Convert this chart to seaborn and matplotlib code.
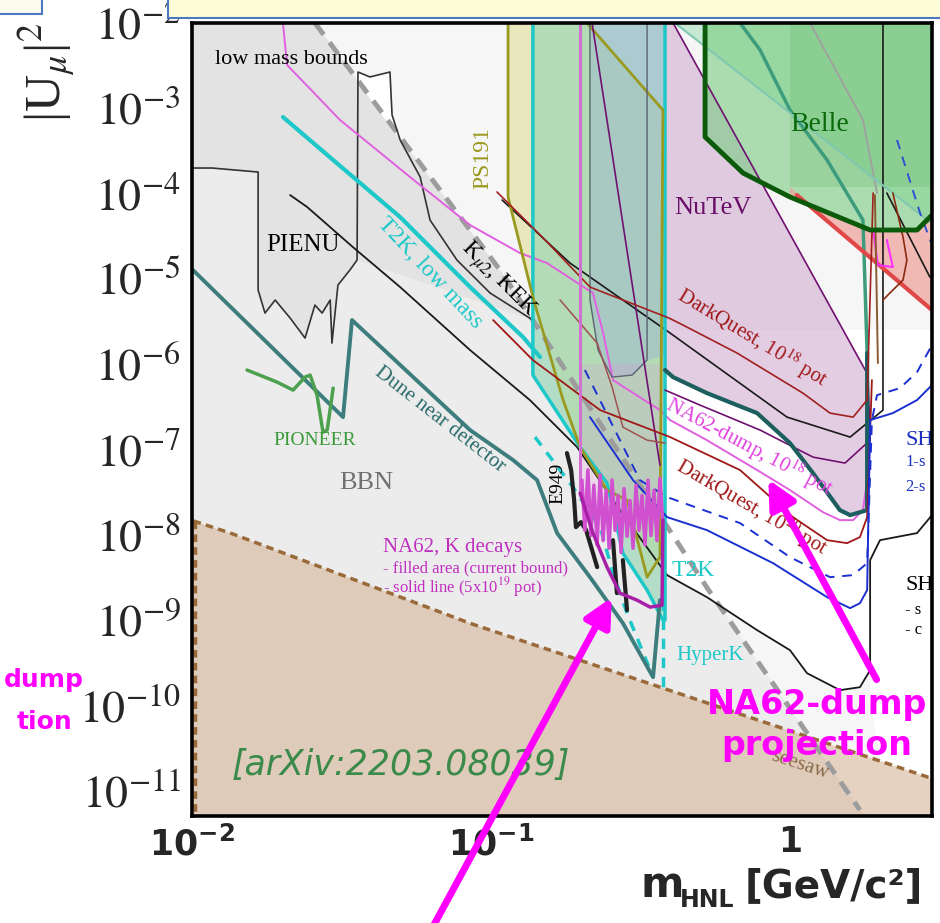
import numpy as np
import matplotlib
matplotlib.use('Agg')
import matplotlib.pyplot as plt
import seaborn as sns
from matplotlib.patches import Rectangle, FancyArrowPatch
from matplotlib.ticker import LogLocator, NullFormatter, FuncFormatter

# all values are log10: m_HNL in GeV/c^2 (lm) and |U_mu|^2 (lu)

# BBN / low mass bound, grey dashed
bbn_lm = [-1.589, -0.963, -0.278, 0.234]
bbn_lu = [-2.0, -4.93, -8.62, -11.23]

# seesaw line
seesaw_lm = [-1.995, -1.873, -1.070, 0.475]
seesaw_lu = [-7.84, -7.98, -9.04, -10.86]

# PIENU outline (left edge -> jagged bottom -> right edge) and K_mu2 KEK curve
pienu_lm = [-2.0, -1.933, -1.779, -1.779, -1.756, -1.722, -1.672, -1.622, -1.589, -1.565, -1.538, -1.532,
            -1.512, -1.472, -1.448, -1.445]
pienu_lu = [-3.701, -3.701, -3.748, -5.132, -5.402, -5.249, -5.460, -5.695, -5.308, -5.402, -5.249, -5.754,
            -5.073, -4.897, -4.780, -2.575]
kmu2_lm = [-1.445, -1.405, -1.338, -1.331, -1.304, -1.237, -1.204, -1.114, -1.003, -0.860]
kmu2_lu = [-2.575, -2.633, -2.575, -3.079, -3.372, -3.806, -4.311, -4.780, -5.167, -5.484]

notch_lm = [-1.445, -1.405, -1.338, -1.331, -1.304, -1.445]
notch_lu = [-2.575, -2.633, -2.575, -3.079, -3.372, -2.692]

# thin black curve (low mass -> outer contour on the right)
blackc_lm = [-1.672, -1.615, -1.462, -1.304, -1.070, -0.870, -0.712, -0.569, -0.411, -0.278, -0.110, 0.0,
             0.057, 0.167, 0.234, 0.268, 0.268, 0.301, 0.425, 0.475]
blackc_lu = [-4.018, -4.158, -4.628, -5.097, -5.836, -6.422, -6.974, -7.713, -8.475, -8.733, -9.120, -9.355,
             -9.625, -9.824, -9.789, -9.589, -8.299, -8.065, -7.982, -7.771]

# upper thin black curve
blackb_lm = [-0.963, -0.736, -0.401, -0.010, 0.201, 0.311, 0.311]
blackb_lu = [-4.076, -4.815, -5.636, -6.622, -6.856, -6.540, -2.0]

# NA62-dump 10^18 pot
dump_lm = [-1.696, -1.682, -1.505, -1.271, -1.070, -0.903, -0.813, -0.659, -0.625, -0.592, -0.435, -0.401,
           -0.278, -0.110, 0.0, 0.110, 0.167, 0.211, 0.244, 0.258, 0.261]
dump_lu = [-2.0, -2.493, -3.138, -3.806, -4.370, -4.698, -4.815, -5.167, -5.636, -6.188, -6.540, -6.657,
           -6.892, -7.243, -7.478, -7.736, -7.830, -7.830, -7.713, -7.361, -5.601]

# T2K
t2klow_lm = [-1.696, -1.528, -1.304, -1.070, -0.893, -0.836]
t2klow_lu = [-3.103, -3.607, -4.276, -5.097, -5.683, -5.918]
t2k_lm = [-0.860, -0.860, -0.702, -0.612, -0.559, -0.478, -0.425, -0.418, -0.418]
t2k_lu = [-2.0, -6.129, -6.974, -7.396, -8.217, -8.651, -9.003, -9.003, -2.0]
hyperk_lm = [-0.853, -0.726, -0.635, -0.592, -0.545, -0.458]
hyperk_lu = [-6.856, -7.443, -7.912, -8.452, -8.921, -9.672]
hyperk2_lm = [-0.425, -0.425]
hyperk2_lu = [-8.768, -9.824]

# PS191
ps191_lm = [-0.943, -0.943, -0.860, -0.759, -0.702, -0.612, -0.545, -0.478, -0.435, -0.425, -0.679]
ps191_lu = [-2.0, -4.041, -5.214, -6.422, -6.974, -7.478, -7.595, -8.499, -8.264, -3.021, -2.0]

# grey-blue beam dump region
charm_lm = [-0.669, -0.669, -0.642, -0.595, -0.528, -0.478, -0.418, -0.418]
charm_lu = [-2.0, -5.249, -5.836, -6.153, -6.129, -5.953, -5.90, -2.0]
charm_edge_lm = [-0.669, -0.669, -0.642, -0.595, -0.528, -0.478, -0.478]
charm_edge_lu = [-2.0, -5.249, -5.836, -6.153, -6.129, -5.953, -2.0]

# NuTeV
nutev_lm = [-0.418, -0.391, 0.261, 0.261, 0.201, 0.167, 0.077, 0.0, -0.110, -0.278, -0.391, -0.418]
nutev_lu = [-2.0, -2.0, -6.129, -7.713, -7.771, -7.713, -7.279, -6.927, -6.575, -6.340, -6.153, -6.070]
nutev_diag_lm = [-0.662, -0.435]
nutev_diag_lu = [-2.0, -7.185]
nutev_right_lm = [-0.391, 0.261]
nutev_right_lu = [-2.0, -6.129]
nutev_bot_lm = [0.261, 0.268, 0.184, 0.077, -0.100, -0.301, -0.418]
nutev_bot_lu = [-6.129, -6.892, -7.161, -7.091, -6.774, -6.481, -6.305]

# teal thick contour
teal_up_lm = [-0.167, -0.100, 0.0, 0.124, 0.244, 0.258]
teal_up_lu = [-2.0, -2.317, -3.021, -3.607, -4.311, -5.871]
teal_lo_lm = [0.258, 0.258, 0.201, 0.167, 0.077, 0.0, -0.110, -0.278, -0.391, -0.418]
teal_lo_lu = [-5.871, -7.713, -7.771, -7.713, -7.279, -6.927, -6.575, -6.340, -6.153, -6.070]

# Belle and neighbours
belle_lm = [-0.284, -0.284, -0.157, 0.0, 0.268, 0.425, 0.475, 0.475]
belle_lu = [-2.0, -3.337, -3.760, -4.041, -4.428, -4.428, -4.252, -2.0]
lgreen_lm = [-0.385, 0.468, 0.475]
lgreen_lu = [-2.0, -4.334, -2.0]
dgreen_lm = [0.0, 0.0, 0.475, 0.475]
dgreen_lu = [-2.0, -3.924, -3.924, -2.0]
salmon_lm = [0.0, 0.475, 0.475, 0.425, 0.268, 0.0]
salmon_lu = [-3.924, -5.367, -4.252, -4.428, -4.428, -4.041]
redline_lm = [0.023, 0.475]
redline_lu = [-4.018, -5.367]
greyl_lm = [0.067, 0.244, 0.291]
greyl_lu = [-2.0, -3.138, -3.994]
blackr_lm = [0.324, 0.468]
blackr_lu = [-3.994, -4.980]
magsmall_lm = [0.278, 0.294, 0.344, 0.324]
magsmall_lu = [-4.428, -4.839, -4.862, -4.545]

# DarkQuest
dq18_lm = [-0.980, -0.819, -0.669, -0.405, -0.358, -0.177, 0.043, 0.134, 0.211, 0.258, 0.278]
dq18_lu = [-3.982, -4.545, -5.097, -5.460, -5.542, -5.871, -6.340, -6.575, -6.622, -6.422, -3.994]
dqin_lm = [-0.769, -0.645, -0.595, -0.559, -0.478, -0.418]
dqin_lu = [-5.249, -5.754, -6.270, -6.739, -6.892, -6.927]
dq20_lm = [-0.993, -0.860, -0.635, -0.401, -0.167, 0.010, 0.124, 0.191, 0.234, 0.258, 0.274]
dq20_lu = [-5.484, -5.953, -6.540, -6.856, -7.243, -7.795, -8.065, -8.100, -8.029, -7.795, -6.188]
dqx_lm = [0.344, 0.378, 0.391, 0.378, 0.334, 0.311]
dqx_lu = [-3.994, -4.510, -4.780, -5.015, -5.167, -5.249]
dqv_lm = [0.284, 0.294]
dqv_lu = [-4.018, -5.988]

# SHiP
ship_lm = [-0.669, -0.525, -0.411, -0.278, -0.057, 0.124, 0.201, 0.234, 0.258, 0.268, 0.344, 0.425, 0.475]
ship_lu = [-6.622, -7.361, -7.795, -7.947, -8.334, -8.733, -8.862, -8.804, -8.651, -6.657, -6.575, -6.422, -6.246]
shipd_lm = [-0.686, -0.502, -0.411, -0.167, 0.0, 0.134, 0.211, 0.258, 0.274, 0.291, 0.368, 0.425, 0.475]
shipd_lu = [-6.070, -7.361, -7.560, -7.865, -8.264, -8.499, -8.475, -8.334, -6.657, -6.364, -6.282, -6.094, -5.777]
shipd2_lm = [0.358, 0.435, 0.475]
shipd2_lu = [-3.372, -4.229, -4.604]

# white (unconstrained) pocket
pocket_lm = [-0.418, 0.475, 0.475, 0.301, 0.268, 0.268, 0.234, 0.167, 0.057, 0.0, -0.110, -0.278, -0.411]
pocket_lu = [-5.60, -5.60, -10.86, -10.645, -9.941, -9.589, -9.789, -9.824, -9.625, -9.355, -9.120, -8.733, -8.475]

# Dune near detector, PIONEER, E949
dune_lm = [-1.997, -1.495, -1.465, -1.070, -0.926, -0.846, -0.779, -0.669, -0.559, -0.458, -0.435]
dune_lu = [-4.897, -6.622, -5.484, -6.774, -7.126, -7.361, -7.982, -8.499, -9.038, -9.672, -8.768]
pioneer_lm = [-1.816, -1.716, -1.662, -1.622, -1.605, -1.582, -1.562, -1.548, -1.528]
pioneer_lu = [-6.070, -6.211, -6.305, -6.153, -6.129, -6.364, -6.798, -6.774, -6.282]
e949_lm = [-0.746, -0.732, -0.722, -0.716, -0.699, -0.682, -0.662, -0.645]
e949_lu = [-7.044, -7.243, -7.595, -7.912, -7.853, -7.947, -8.182, -8.381]
e949b_lm = [[-0.592, -0.579], [-0.559, -0.545]]
e949b_lu = [[-8.065, -8.686], [-8.299, -8.886]]

# NA62 K decays: current bound (jagged) and 5x10^19 pot projection
na62k_lm = [-0.696, -0.686, -0.676, -0.666, -0.656, -0.645, -0.635, -0.625, -0.615, -0.605, -0.595, -0.585,
            -0.575, -0.565, -0.555, -0.545, -0.535, -0.525, -0.515, -0.505, -0.495, -0.485, -0.475, -0.465,
            -0.455, -0.445, -0.435, -0.425]
na62k_lu = [-7.36, -7.95, -7.24, -8.01, -7.42, -8.12, -7.30, -8.07, -7.48, -8.16, -7.36, -7.95,
            -7.54, -8.21, -7.46, -8.02, -7.60, -8.16, -7.42, -7.95, -7.54, -8.12, -7.36, -8.01,
            -7.48, -8.07, -7.34, -7.89]
na62p_lm = [-0.702, -0.659, -0.612, -0.569, -0.512, -0.468, -0.428, -0.425]
na62p_lu = [-7.513, -7.982, -8.381, -8.686, -8.768, -8.850, -8.827, -7.830]

LM_MIN, LM_MAX = -2.0, 0.475
LU_MIN, LU_MAX = -11.3, -2.0

sns.set_style('white')
plt.rcParams['font.family'] = ['Liberation Serif', 'DejaVu Serif']
plt.rcParams['mathtext.fontset'] = 'stix'

fig = plt.figure(figsize=(9.4, 9.23), dpi=100)
ax = fig.add_axes([0.2043, 0.1159, 0.7872, 0.8592])
ax.set_xscale('log')
ax.set_yscale('log')
ax.set_xlim(10**LM_MIN, 10**LM_MAX)
ax.set_ylim(10**LU_MIN, 10**LU_MAX)
ax.set_facecolor('#f6f6f6')


def P(a):
    return 10**np.asarray(a, dtype=float)


def area(lm, lu, fc, alpha=1.0, z=1):
    ax.fill(P(lm), P(lu), facecolor=fc, alpha=alpha, edgecolor='none', linewidth=0, zorder=z)


def curve(lm, lu, color, lw=1.2, ls='-', z=3):
    sns.lineplot(x=P(lm), y=P(lu), sort=False, estimator=None, color=color, linewidth=lw,
                 linestyle=ls, zorder=z, ax=ax, legend=False)


# background zones
area([LM_MIN] + bbn_lm + [0.26, LM_MIN], [LU_MAX] + bbn_lu + [LU_MIN, LU_MIN], '#ececec', z=0.5)
low_lm = [LM_MIN, bbn_lm[0]] + kmu2_lm[4:] + pienu_lm[-2::-1]
low_lu = [LU_MAX, LU_MAX] + kmu2_lu[4:] + pienu_lu[-2::-1]
area(low_lm, low_lu, '#000000', alpha=0.035, z=0.6)
area(kmu2_lm[4:] + [bbn_lm[1]], kmu2_lu[4:] + [bbn_lu[1]], '#000000', alpha=0.04, z=0.6)
area(notch_lm, notch_lu, 'white', z=0.7)
area(pocket_lm, pocket_lu, 'white', z=0.7)
area([LM_MIN] + seesaw_lm + [LM_MAX, LM_MIN], [seesaw_lu[0]] + seesaw_lu + [LU_MIN, LU_MIN],
     '#c88f5f', alpha=0.35, z=1.2)

# exclusion fills
area(ps191_lm, ps191_lu, '#e0dc90', alpha=0.55, z=1.5)
area(t2k_lm, t2k_lu, '#90d4b0', alpha=0.6, z=1.6)
area(charm_lm, charm_lu, '#98acd8', alpha=0.4, z=1.7)
area(nutev_lm, nutev_lu, '#d8b8d8', alpha=0.7, z=1.8)
area(na62k_lm + [-0.425, -0.702], na62k_lu + [-6.0, -6.0], '#e090e0', alpha=0.2, z=1.9)
area(lgreen_lm, lgreen_lu, '#70d090', alpha=0.35, z=1.8)
area(belle_lm, belle_lu, '#78cc80', alpha=0.6, z=1.9)
area(dgreen_lm, dgreen_lu, '#5aaa5a', alpha=0.2, z=1.95)
area(salmon_lm, salmon_lu, '#f0a098', alpha=0.7, z=1.9)

# seesaw + BBN dashed
curve(seesaw_lm, seesaw_lu, '#9a6a3a', lw=2.5, ls=(0, (2.2, 1.5)), z=2.6)
curve([-1.99, -1.99], [seesaw_lu[0], LU_MIN], '#9a6a3a', lw=2.5, ls=(0, (2.2, 1.5)), z=2.6)
curve(bbn_lm, bbn_lu, '#9c9c9c', lw=3.5, ls=(0, (3, 2)), z=2.7)

# curves
curve(pienu_lm + kmu2_lm[1:], pienu_lu + kmu2_lu[1:], '#333333', lw=1.2)
curve(blackc_lm, blackc_lu, '#1a1a1a', lw=1.3)
curve(blackb_lm, blackb_lu, '#1a1a1a', lw=1.2)
curve(blackr_lm, blackr_lu, '#1a1a1a', lw=1.2)
curve(greyl_lm, greyl_lu, '#a0a0a0', lw=1.3)
curve(dump_lm, dump_lu, '#e060e0', lw=1.4)
curve(t2klow_lm, t2klow_lu, '#1ec8c8', lw=3)
curve(t2k_lm, t2k_lu, '#1ec8c8', lw=2.5)
curve(hyperk_lm, hyperk_lu, '#1ec8c8', lw=2.5, ls=(0, (3, 2.5)))
curve(hyperk2_lm, hyperk2_lu, '#1ec8c8', lw=2.5, ls=(0, (3, 2.5)))
curve(ps191_lm, ps191_lu, '#9a9a20', lw=2)
curve(charm_edge_lm, charm_edge_lu, '#5a6470', lw=1)
curve(nutev_diag_lm, nutev_diag_lu, '#701070', lw=1.2)
curve(nutev_right_lm, nutev_right_lu, '#701070', lw=1.2)
curve(nutev_bot_lm, nutev_bot_lu, '#701070', lw=1.2)
curve(teal_up_lm, teal_up_lu, '#3c9c7c', lw=2.5)
curve(teal_lo_lm, teal_lo_lu, '#1d5f5f', lw=3)
curve(belle_lm[:-1], belle_lu[:-1], '#0a5a0a', lw=3.5, z=3.2)
curve(lgreen_lm[:2], lgreen_lu[:2], '#80c8b0', lw=1.5)
curve(redline_lm, redline_lu, '#e04848', lw=3)
curve(magsmall_lm, magsmall_lu, '#ff30ff', lw=1.5)
curve(dq18_lm, dq18_lu, '#a02020', lw=1.2)
curve(dqin_lm, dqin_lu, '#a05050', lw=1.1)
curve(dq20_lm, dq20_lu, '#a01818', lw=1.3)
curve(dqx_lm, dqx_lu, '#8a2a10', lw=1.2)
curve(dqv_lm, dqv_lu, '#8a5a30', lw=1.4)
curve(ship_lm, ship_lu, '#1a30d0', lw=1.4)
curve(shipd_lm, shipd_lu, '#1a30d0', lw=1.4, ls=(0, (5, 4)))
curve(shipd2_lm, shipd2_lu, '#3050d0', lw=1.4, ls=(0, (5, 4)))
curve(dune_lm, dune_lu, '#3d7d7d', lw=2.8)
curve(pioneer_lm, pioneer_lu, '#4da04d', lw=2.5)
curve(e949_lm, e949_lu, '#222222', lw=3)
for bm, bu in zip(e949b_lm, e949b_lu):
    curve(bm, bu, '#222222', lw=3)
curve([-0.702, -0.702], [LU_MAX, na62p_lu[0]], '#d070d0', lw=2.2)
curve(na62k_lm, na62k_lu, '#d050d0', lw=2.5, z=3.3)
curve(na62p_lm, na62p_lu, '#a820a8', lw=2.5, z=3.4)


# labels inside the plot
def label(lm, lu, s, color, size, rot=0, ha='center', **kw):
    ax.text(10**lm, 10**lu, s, color=color, fontsize=size, rotation=rot, ha=ha, va='center',
            rotation_mode='anchor', zorder=5, **kw)


label(-1.923, -2.434, 'low mass bounds', 'black', 16, ha='left')
label(-1.629, -4.604, 'PIENU', 'black', 18)
label(-1.204, -4.933, 'T2K, low mass', '#1ec8c8', 17, rot=-47)
label(-0.977, -5.015, r'K$_{\mu2}$, KEK', 'black', 17, rot=-45)
label(-1.027, -3.584, 'PS191', '#9a9a20', 17, rot=90)
label(-0.258, -4.170, 'NuTeV', '#6a106a', 19)
label(0.100, -3.196, 'Belle', '#0a6a0a', 20)
label(-0.127, -5.695, r'DarkQuest, 10$^{18}$ pot', '#a01818', 15, rot=-31)
label(-0.134, -6.974, r'NA62-dump, 10$^{18}$ pot', '#e040e0', 15, rot=-28)
label(-0.127, -7.677, r'DarkQuest, 10$^{20}$ pot', '#a01818', 15, rot=-30)
label(-0.324, -8.416, 'T2K', '#1ec8c8', 17)
label(-0.268, -9.413, 'HyperK', '#1ec8c8', 15)
label(-0.776, -7.396, 'E949', 'black', 14, rot=90)
label(-1.361, -8.147, 'NA62, K decays', '#c030c0', 15, ha='left')
label(-1.361, -8.393, '- filled area (current bound)', '#c030c0', 12, ha='left')
label(-1.361, -8.616, r'- solid line (5x10$^{19}$ pot)', '#c030c0', 12, ha='left')
label(-1.171, -6.657, 'Dune near detector', '#2a6a6a', 15, rot=-38)
label(-1.589, -6.892, 'PIONEER', '#3a9a3a', 14)
label(-1.418, -7.396, 'BBN', '#707070', 19)
label(0.033, -10.704, 'seesaw', '#8a6a4a', 15, rot=-18)
# texts at the right border are cut in the source slide: only their visible start is kept
label(0.385, -6.892, 'SH', '#1a30c0', 16, ha='left')
label(0.385, -7.150, '1-s', '#1a30c0', 12, ha='left')
label(0.385, -7.443, '2-s', '#1a30c0', 12, ha='left')
label(0.385, -8.592, 'SH', 'black', 16, ha='left')
label(0.385, -8.886, '- s', 'black', 12, ha='left')
label(0.385, -9.120, '- c', 'black', 12, ha='left')
ax.text(10**-1.301, 10**-10.704, '[arXiv:2203.08039]', color='#3a8a4a', fontsize=25,
        family='DejaVu Sans', style='italic', ha='center', va='center', zorder=5)

# axes styling
ax.set_axisbelow(False)
ax.yaxis.set_major_locator(LogLocator(base=10, numticks=20))
ax.yaxis.set_minor_locator(LogLocator(base=10, subs=np.arange(2, 10), numticks=20))
ax.yaxis.set_major_formatter(FuncFormatter(lambda v, p: '$10^{%d}$' % int(round(np.log10(v)))))
ax.yaxis.set_minor_formatter(NullFormatter())
ax.set_xticks([0.01, 0.1, 1])
ax.set_xticklabels([r'$\mathbf{10^{-2}}$', r'$\mathbf{10^{-1}}$', r'$\mathbf{1}$'],
                   math_fontfamily='dejavusans', fontsize=25)
ax.xaxis.set_minor_locator(LogLocator(base=10, subs=np.arange(2, 10), numticks=20))
ax.xaxis.set_minor_formatter(NullFormatter())
ax.tick_params(axis='y', which='major', direction='in', length=25, width=2.2, color='#3a3a3a',
               labelsize=33, pad=8)
ax.tick_params(axis='y', which='minor', direction='in', length=12, width=2, color='#3a3a3a')
ax.tick_params(axis='x', which='major', direction='in', length=17, width=2, color='#5a4a3a', pad=8)
ax.tick_params(axis='x', which='minor', direction='in', length=9, width=2, color='#5a4a3a')
ax.tick_params(which='both', top=False, right=False)
ax.set_xlabel('')
ax.set_ylabel('')
ax.xaxis.label.set_visible(False)
ax.yaxis.label.set_visible(False)
for s in ax.spines.values():
    s.set_linewidth(2.6)
    s.set_color('black')
    s.set_zorder(6)

# axis titles
fig.text(0.048, 0.922, r'|U$_\mu$|$^2$', rotation=90, fontsize=37, ha='center', va='center')
fig.text(0.681, 0.0282, 'm', fontsize=30, fontweight='bold', family='DejaVu Sans', va='baseline')
fig.text(0.7234, 0.0173, 'HNL', fontsize=17, fontweight='bold', family='DejaVu Sans', va='baseline')
fig.text(0.7926, 0.0282, '[GeV/c²]', fontsize=28, fontweight='bold', family='DejaVu Sans', va='baseline')

# slide overlays: boxes, annotation text, arrows
fig.add_artist(Rectangle((168 / 940, 1 - 18 / 923), 1.0, 0.05, transform=fig.transFigure,
                         facecolor='#fefcd6', edgecolor='#4a7ac4', linewidth=1.5, zorder=10))
fig.add_artist(Rectangle((-0.01, 1 - 14 / 923), 42 / 940 + 0.01, 0.05, transform=fig.transFigure,
                         facecolor='#fbfbee', edgecolor='#4a7ac4', linewidth=1.5, zorder=10))
fig.text(0.869, 0.2145, 'NA62-dump\nprojection', color='#ff00ff', fontsize=24, fontweight='bold',
         family='DejaVu Sans', ha='center', va='center', linespacing=1.3, zorder=11)
# the copy at the left slide border only shows its line endings
fig.text(84 / 940, 1 - 680 / 923, 'dump', color='#ff00ff', fontsize=18, fontweight='bold',
         family='DejaVu Sans', ha='right', va='center', zorder=11)
fig.text(72 / 940, 1 - 722 / 923, 'tion', color='#ff00ff', fontsize=18, fontweight='bold',
         family='DejaVu Sans', ha='right', va='center', zorder=11)
for tail, head in [((0.4574, -0.01), (0.6521, 0.3554)), ((0.934, 0.261), (0.816, 0.4832))]:
    fig.add_artist(FancyArrowPatch(tail, head, transform=fig.transFigure, arrowstyle='-|>',
                                   mutation_scale=42, linewidth=5, color='#ff00ff', zorder=12))

fig.savefig('out.png', dpi=100)
